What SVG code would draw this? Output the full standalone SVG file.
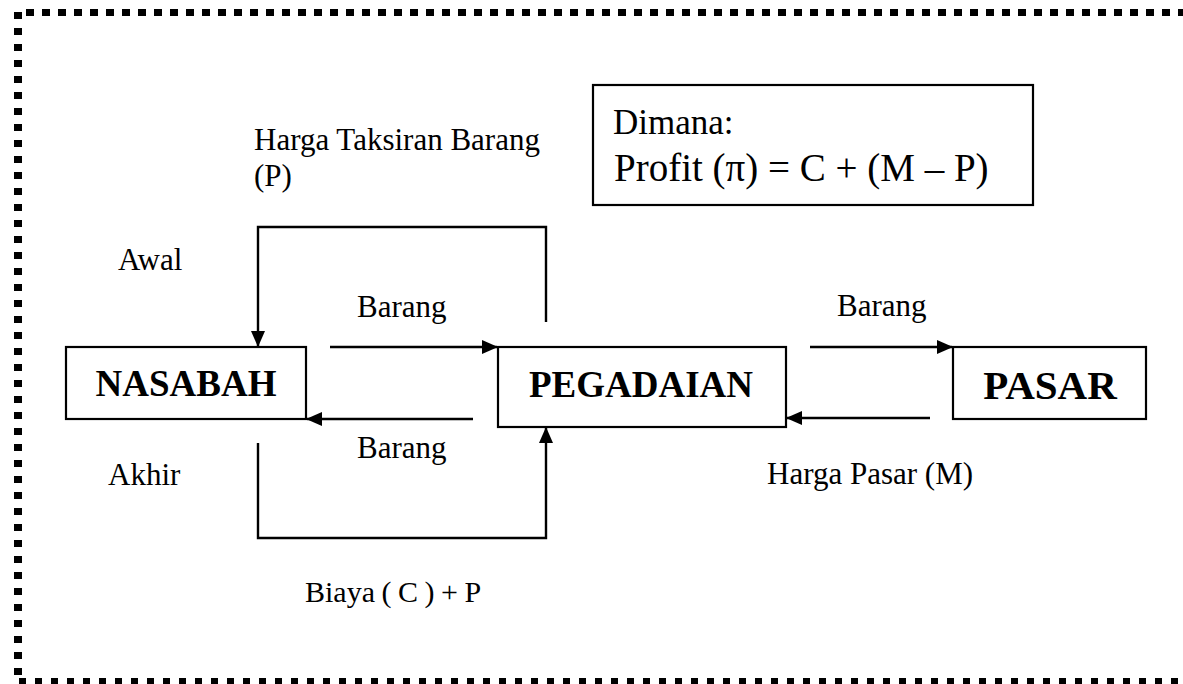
<svg xmlns="http://www.w3.org/2000/svg" width="1183" height="684" viewBox="0 0 1183 684">
<style>
.box{fill:#fff;stroke:#000;stroke-width:2.2}
.lbl{font-family:"Liberation Serif","Times New Roman",serif;font-size:31px;fill:#000}
.big{font-family:"Liberation Serif","Times New Roman",serif;font-size:35px;fill:#000}
.node{font-family:"Liberation Serif","Times New Roman",serif;font-weight:bold;font-size:37px;fill:#000;text-anchor:middle}
.con{fill:none;stroke:#000;stroke-width:2.4}
.arr{marker-end:url(#ah)}
.dot{fill:none;stroke:#000}
</style>
<defs>
<marker id="ah" markerUnits="userSpaceOnUse" markerWidth="16" markerHeight="14" refX="15" refY="7" orient="auto">
<path d="M0,0 L16,7 L0,14 z" fill="#000"/>
</marker>
</defs>
<rect width="1183" height="684" fill="#fff"/>
<g id="border">
<line class="dot" x1="26" y1="12.5" x2="1183" y2="12.5" stroke-width="7" stroke-dasharray="8 8"/>
<line class="dot" x1="18" y1="12" x2="18" y2="676" stroke-width="8" stroke-dasharray="7 9"/>
<line class="dot" x1="19" y1="681.5" x2="1183" y2="681.5" stroke-width="7" stroke-dasharray="7 9"/>
</g>
<g id="connectors">
<path class="con arr" d="M546,322 V227 H258 V346"/>
<line class="con arr" x1="330" y1="347" x2="497" y2="347"/>
<line class="con arr" x1="473" y1="419" x2="307" y2="419"/>
<path class="con arr" d="M258,443 V538 H546 V428"/>
<line class="con arr" x1="810" y1="347" x2="952" y2="347"/>
<line class="con arr" x1="930" y1="418" x2="787" y2="418"/>
</g>
<g id="labels">
<text class="lbl" x="254" y="150">Harga Taksiran Barang</text>
<text class="lbl" x="254" y="186">(P)</text>
<text class="lbl" x="118" y="270">Awal</text>
<text class="lbl" x="357" y="317">Barang</text>
<text class="lbl" x="357" y="458">Barang</text>
<text class="lbl" x="108" y="485">Akhir</text>
<text class="lbl" x="305" y="602" style="font-size:30px;word-spacing:-1px">Biaya ( C ) + P</text>
<text class="lbl" x="837" y="316">Barang</text>
<text class="lbl" x="767" y="484">Harga Pasar (M)</text>
</g>
<g id="nasabah">
<rect class="box" x="66" y="347" width="240" height="72"/>
<text class="node" x="186" y="396">NASABAH</text>
</g>
<g id="pegadaian">
<rect class="box" x="498" y="347" width="288" height="80"/>
<text class="node" x="641" y="397">PEGADAIAN</text>
</g>
<g id="pasar">
<rect class="box" x="953" y="347" width="193" height="72"/>
<text class="node" x="1050" y="399" style="font-size:41px">PASAR</text>
</g>
<g id="dimana">
<rect class="box" x="593" y="85" width="440" height="120"/>
<text class="big" x="613" y="134">Dimana:</text>
<text class="big" x="614" y="181" style="font-size:39px">Profit (π) = C + (M – P)</text>
</g>
</svg>
